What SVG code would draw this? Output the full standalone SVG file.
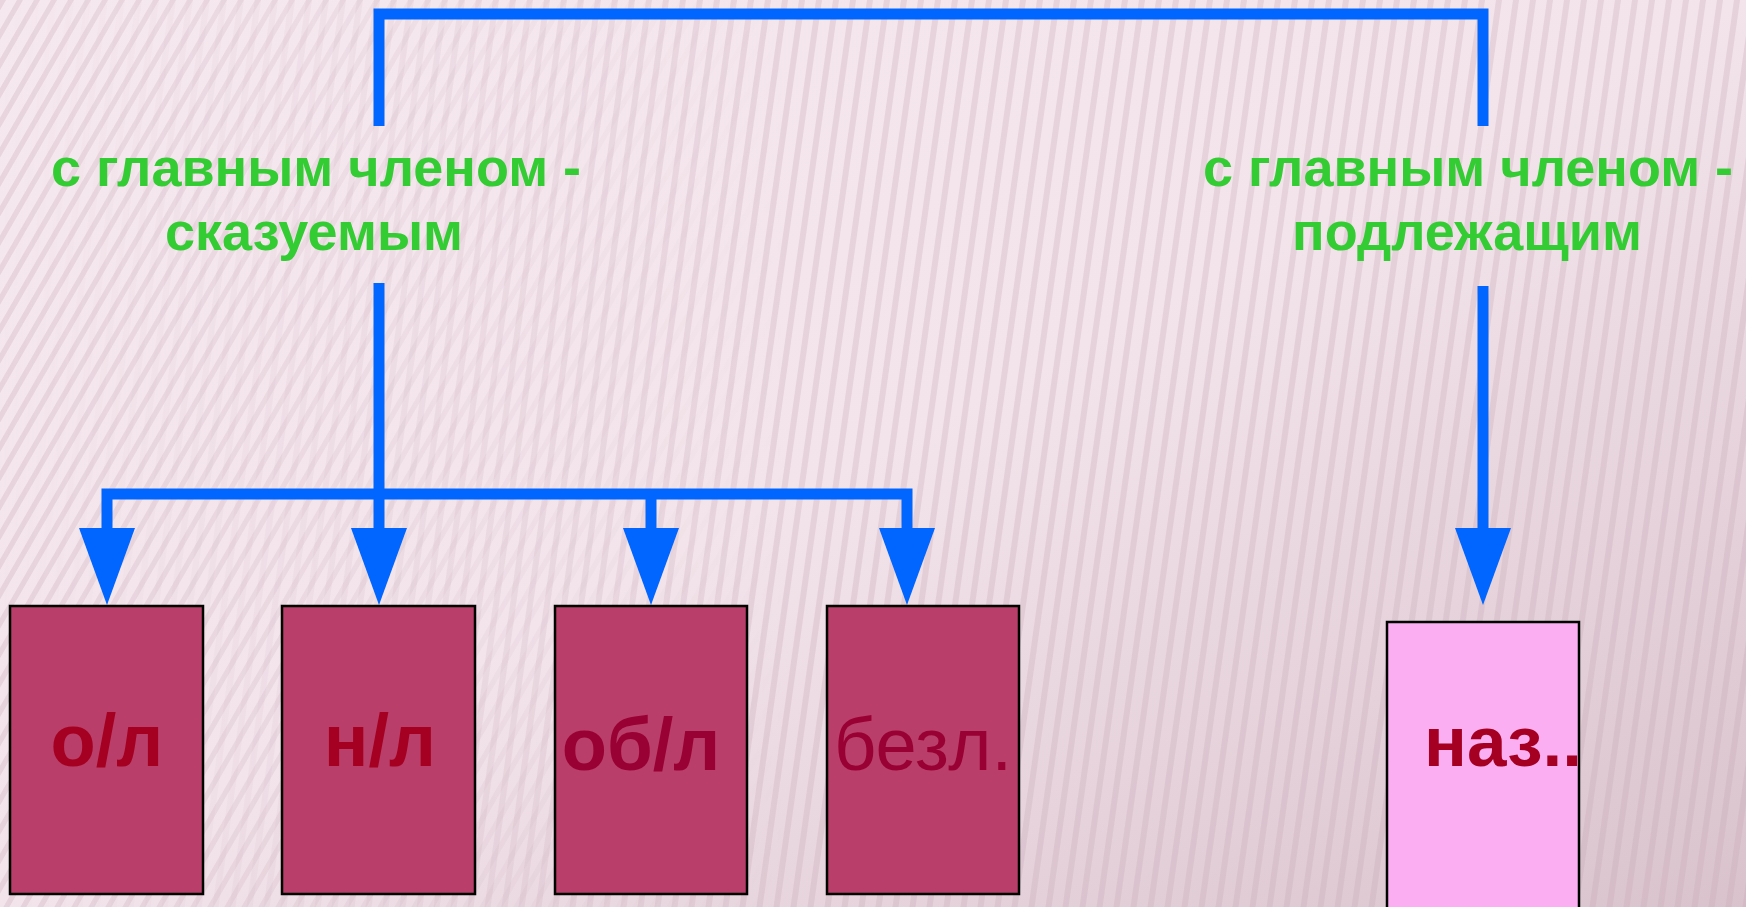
<svg xmlns="http://www.w3.org/2000/svg" width="1746" height="907" viewBox="0 0 1746 907">
  <defs>
    <linearGradient id="bg" x1="0" y1="0" x2="1" y2="1">
      <stop offset="0" stop-color="#F6E8EF"/>
      <stop offset="0.5" stop-color="#F3E4EB"/>
      <stop offset="1" stop-color="#D9C2CC"/>
    </linearGradient>
    <pattern id="stripes" width="17" height="40" patternUnits="userSpaceOnUse" patternTransform="skewX(-8)">
      <rect x="0" y="0" width="6" height="40" fill="#C9A9B8" opacity="0.3"/>
    </pattern>
    <pattern id="stripes2" width="17" height="40" patternUnits="userSpaceOnUse" patternTransform="skewX(-30)">
      <rect x="0" y="0" width="6" height="40" fill="#C9A9B8" opacity="0.3"/>
    </pattern>
    <linearGradient id="fadeL" x1="0" y1="0" x2="1" y2="0">
      <stop offset="0" stop-color="#fff" stop-opacity="1"/>
      <stop offset="0.45" stop-color="#fff" stop-opacity="0"/>
    </linearGradient>
    <linearGradient id="fadeR" x1="0" y1="0" x2="1" y2="0">
      <stop offset="0" stop-color="#fff" stop-opacity="0"/>
      <stop offset="0.45" stop-color="#fff" stop-opacity="1"/>
    </linearGradient>
    <mask id="mL"><rect width="1746" height="907" fill="url(#fadeL)"/></mask>
    <mask id="mR"><rect width="1746" height="907" fill="url(#fadeR)"/></mask>
  </defs>
  <style>
    .conn { fill: none; stroke: #0066FF; stroke-width: 11; stroke-linejoin: miter; stroke-linecap: butt; }
    .head { fill: #0066FF; }
    .green { fill: #33CC33; font-family: "Liberation Sans", Arial, sans-serif; font-weight: bold; font-size: 54px; text-anchor: middle; }
    .box { fill: #B93E69; stroke: #000; stroke-width: 2.5; }
    .boxp { fill: #FBAEF2; stroke: #000; stroke-width: 2.5; }
    .lbl { fill: #A50021; font-family: "Liberation Sans", Arial, sans-serif; font-weight: bold; font-size: 74px; text-anchor: middle; }
  </style>
  <rect width="1746" height="907" fill="url(#bg)"/>
  <rect width="1746" height="907" fill="url(#stripes)" mask="url(#mR)"/>
  <rect width="1746" height="907" fill="url(#stripes2)" mask="url(#mL)"/>

  <g id="connectors">
    <path class="conn" d="M379 126 V14 H1483 V126"/>
    <path class="conn" d="M379 283 V530"/>
    <path class="conn" d="M107 530 V494 H907 V530"/>
    <path class="conn" d="M651 494 V530"/>
    <path class="conn" d="M1483 286 V530"/>
    <polygon class="head" points="79,528 135,528 107,605"/>
    <polygon class="head" points="351,528 407,528 379,605"/>
    <polygon class="head" points="623,528 679,528 651,605"/>
    <polygon class="head" points="879,528 935,528 907,605"/>
    <polygon class="head" points="1455,528 1511,528 1483,605"/>
  </g>

  <g id="label-predicate">
    <text class="green" x="316" y="186">с главным членом -</text>
    <text class="green" x="314" y="250">сказуемым</text>
  </g>
  <g id="label-subject">
    <text class="green" x="1468" y="186">с главным членом -</text>
    <text class="green" x="1467" y="250">подлежащим</text>
  </g>

  <g id="node-ol">
    <rect class="box" x="10" y="606" width="193" height="288"/>
    <text class="lbl" x="107" y="766">о/л</text>
  </g>
  <g id="node-nl">
    <rect class="box" x="282" y="606" width="193" height="288"/>
    <text class="lbl" x="380" y="766">н/л</text>
  </g>
  <g id="node-obl">
    <rect class="box" x="555" y="606" width="192" height="288"/>
    <text class="lbl" x="641" y="770" style="fill:#990033">об/л</text>
  </g>
  <g id="node-bezl">
    <rect class="box" x="827" y="606" width="192" height="288"/>
    <text class="lbl" x="923" y="770" style="fill:#990033;font-weight:normal">безл.</text>
  </g>
  <g id="node-naz">
    <rect class="boxp" x="1387" y="622" width="192" height="300"/>
    <text class="lbl" x="1424" y="766" style="text-anchor:start;font-size:71px">наз..</text>
  </g>
</svg>
